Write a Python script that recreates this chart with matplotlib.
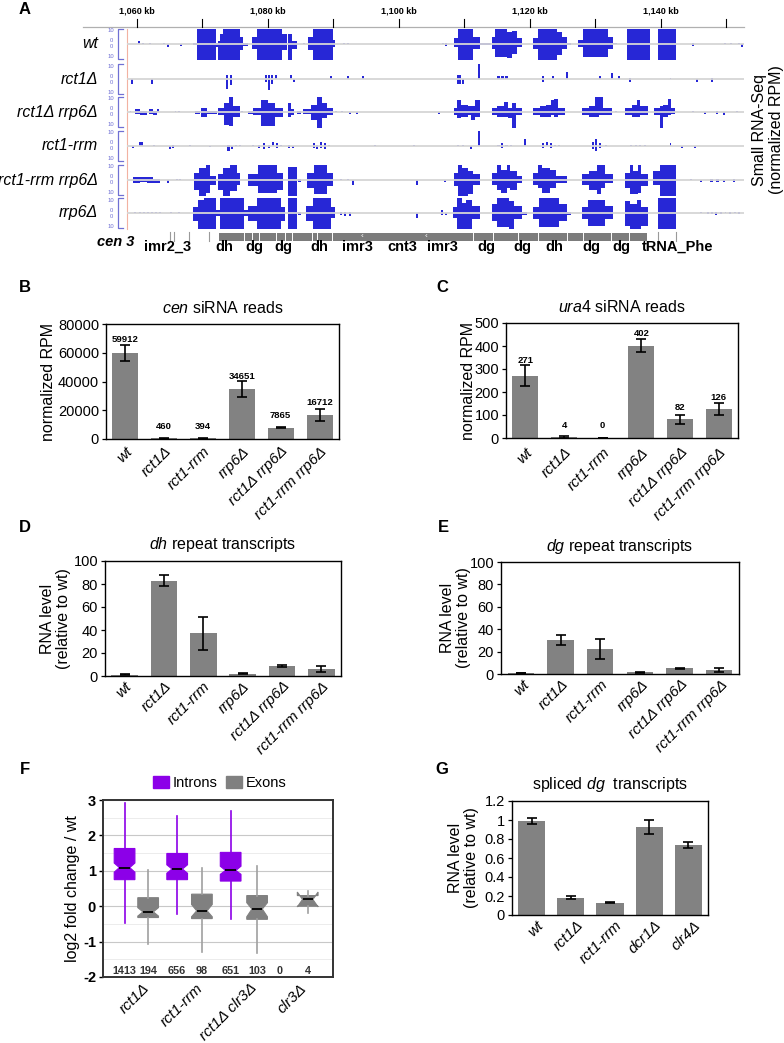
import matplotlib
matplotlib.use("Agg")
import matplotlib.pyplot as plt
from matplotlib.patches import Patch, Rectangle
import numpy as np

plt.rcParams['font.family'] = ['Liberation Sans', 'DejaVu Sans']
plt.rcParams['mathtext.fontset'] = 'custom'
plt.rcParams['mathtext.rm'] = 'Liberation Sans'
plt.rcParams['mathtext.it'] = 'Liberation Sans:italic'
plt.rcParams['mathtext.bf'] = 'Liberation Sans:bold'
plt.rcParams['axes.unicode_minus'] = False

# ====================== DATA ======================
# Panel A: small RNA coverage, segments (start_kb, end_kb, plus_strand, minus_strand), scale 0-10
track_names = ["wt", "rct1Δ", "rct1Δ rrp6Δ", "rct1-rrm", "rct1-rrm rrp6Δ", "rrp6Δ"]

wt_segs = [
    (1060.1, 1060.4, 2, 0), (1060.8, 1061.1, 1, 0), (1061.9, 1062.2, 1, 0), (1064.0, 1064.3, 1, 0),
    (1064.6, 1064.9, 0, 2), (1066.5, 1066.8, 0, 1),
    (1068.6, 1069.2, 1, 0.5), (1069.2, 1072.0, 10, 10), (1072.0, 1072.3, 1, 2), (1072.3, 1072.6, 2, 10),
    (1072.6, 1073.1, 7, 10), (1073.1, 1075.8, 10, 10), (1075.8, 1076.2, 5, 4), (1076.2, 1077.0, 1, 1),
    (1077.5, 1078.3, 5, 3), (1078.3, 1082.1, 10, 10), (1082.1, 1082.9, 7, 4), (1083.0, 1083.6, 7, 10),
    (1083.6, 1084.5, 2, 3), (1085.3, 1085.6, 1, 0),
    (1086.1, 1086.9, 5, 4), (1086.9, 1089.9, 10, 10), (1089.9, 1090.3, 3, 2), (1091.5, 1091.8, 1, 0),
    (1092.0, 1092.3, 1, 0), (1106.6, 1106.9, 1, 0), (1107.0, 1107.3, 1, 1),
    (1108.4, 1109.0, 4, 2), (1109.0, 1111.3, 10, 10), (1111.3, 1112.4, 5, 3), (1112.4, 1114.0, 1, 0.5),
    (1114.2, 1114.7, 5, 3), (1114.7, 1116.5, 10, 8), (1116.5, 1117.3, 8, 9), (1117.3, 1118.0, 9, 6),
    (1118.0, 1118.8, 4, 2), (1120.5, 1121.2, 4, 3), (1121.2, 1124.1, 10, 10), (1124.1, 1124.9, 8, 7),
    (1124.9, 1125.7, 5, 3), (1125.7, 1126.3, 1, 0.5), (1127.3, 1128.1, 3, 2), (1128.1, 1131.9, 10, 8),
    (1131.9, 1132.7, 5, 3), (1132.7, 1133.3, 1, 0), (1134.8, 1138.3, 10, 10), (1139.5, 1142.3, 10, 10),
    (1144.8, 1145.1, 1, 1), (1149.6, 1149.9, 1, 0), (1150.5, 1150.8, 1, 0), (1151.7, 1152.0, 1, 0),
    (1152.2, 1152.5, 0, 2),
]
rct1d_segs = [
    (1059.1, 1059.4, 0, 3), (1062.1, 1062.4, 0, 3), (1073.6, 1073.9, 3, 6), (1074.2, 1074.5, 3, 4),
    (1079.6, 1079.9, 3, 2), (1080.0, 1080.3, 3, 7), (1080.5, 1080.8, 3, 3), (1081.0, 1081.3, 3, 0),
    (1083.3, 1083.6, 3, 0), (1083.8, 1084.1, 0, 2), (1089.5, 1089.8, 2, 0), (1092.1, 1092.4, 2, 0),
    (1094.4, 1094.7, 2, 0), (1108.8, 1109.5, 3, 3), (1109.6, 1110.0, 0, 3), (1112.1, 1112.4, 10, 0),
    (1115.0, 1115.4, 2, 0), (1115.6, 1116.0, 2, 0), (1116.2, 1116.6, 2, 0), (1121.8, 1122.1, 2, 2),
    (1123.3, 1123.6, 2, 0), (1125.5, 1125.8, 5, 0), (1130.6, 1130.9, 2, 0), (1132.4, 1132.7, 4, 0),
    (1133.4, 1133.7, 2, 0), (1135.1, 1135.4, 1, 2), (1141.3, 1141.6, 1, 0), (1145.4, 1145.7, 0, 2),
    (1147.7, 1148.0, 1, 2),
]
rct1d_rrp6d_segs = [
    (1058.9, 1059.1, 0.5, 0), (1059.7, 1060.4, 2, 1), (1060.4, 1061.0, 1, 2), (1061.0, 1061.6, 1, 2),
    (1061.8, 1062.4, 2, 1), (1062.4, 1063.0, 1, 2), (1063.0, 1063.3, 2, 0), (1065.8, 1066.0, 1, 0),
    (1066.3, 1066.6, 1, 0), (1068.9, 1069.6, 0.5, 1), (1069.8, 1070.7, 3, 3), (1070.7, 1072.2, 1, 1),
    (1072.4, 1073.3, 3, 2), (1073.3, 1074.0, 6, 8), (1074.0, 1074.6, 10, 9), (1074.6, 1075.7, 4, 3),
    (1075.9, 1076.2, 1, 0), (1077.0, 1077.7, 1, 1), (1077.7, 1079.0, 3, 2), (1079.0, 1080.0, 8, 9),
    (1080.0, 1081.0, 6, 9), (1081.0, 1082.3, 3, 3), (1083.0, 1083.5, 6, 3), (1083.5, 1084.0, 2, 2),
    (1084.5, 1085.0, 1, 1), (1085.3, 1086.5, 2, 1), (1086.5, 1087.5, 5, 5), (1087.5, 1088.3, 10, 10),
    (1088.3, 1089.0, 6, 4), (1089.0, 1090.0, 3, 2), (1090.2, 1090.5, 1, 0), (1091.2, 1091.5, 1, 0),
    (1092.3, 1092.6, 0, 1), (1093.4, 1093.7, 0, 1), (1106.0, 1106.3, 0, 1),
    (1108.4, 1108.8, 3, 2), (1108.8, 1109.4, 8, 4), (1109.4, 1110.5, 5, 3), (1110.5, 1111.0, 4, 2),
    (1111.0, 1111.6, 4, 5), (1111.6, 1112.4, 8, 3), (1114.2, 1115.0, 3, 2), (1115.0, 1116.0, 4, 3),
    (1116.0, 1116.6, 7, 3), (1116.6, 1117.2, 3, 4), (1117.2, 1117.8, 6, 10), (1117.8, 1118.8, 3, 2),
    (1120.5, 1121.5, 3, 2), (1121.5, 1122.5, 4, 3), (1122.5, 1123.2, 5, 3), (1123.2, 1123.6, 8, 2),
    (1123.6, 1124.3, 9, 3), (1124.3, 1125.3, 3, 2), (1127.9, 1129.0, 3, 2), (1129.0, 1130.0, 4, 3),
    (1130.0, 1130.5, 10, 3), (1130.5, 1131.2, 10, 2), (1131.2, 1132.5, 3, 2), (1133.0, 1133.3, 1, 0),
    (1134.5, 1135.5, 3, 2), (1135.5, 1136.3, 5, 3), (1136.3, 1136.8, 8, 3), (1136.8, 1138.0, 4, 2),
    (1139.0, 1139.8, 3, 2), (1139.8, 1140.3, 4, 10), (1140.3, 1141.0, 5, 3), (1141.0, 1141.5, 9, 2),
    (1141.5, 1142.2, 3, 1), (1144.8, 1145.1, 1, 0), (1146.5, 1146.8, 0, 1), (1148.4, 1148.7, 1, 1),
    (1149.4, 1149.7, 0, 2), (1151.5, 1151.8, 1, 0),
]
rct1rrm_segs = [
    (1059.3, 1059.6, 0, 1), (1060.3, 1060.9, 3, 0), (1062.5, 1062.8, 1, 0), (1064.9, 1065.2, 0, 2),
    (1065.3, 1065.6, 1, 1), (1067.9, 1068.2, 1, 0), (1071.0, 1071.3, 0, 0.5), (1073.7, 1074.2, 1, 3),
    (1074.3, 1074.6, 0, 2), (1075.0, 1075.3, 1, 0), (1075.6, 1075.9, 1, 0), (1077.5, 1077.8, 1, 0),
    (1078.5, 1078.8, 1, 1), (1079.3, 1079.6, 2, 2), (1080.0, 1080.3, 1, 1), (1080.6, 1080.9, 3, 0),
    (1081.2, 1081.5, 2, 1), (1081.8, 1082.1, 1, 0), (1083.0, 1083.3, 1, 1), (1083.6, 1083.9, 0, 1),
    (1086.9, 1087.2, 2, 1), (1087.4, 1087.7, 1, 2), (1088.0, 1088.3, 3, 1), (1088.6, 1088.9, 2, 2),
    (1089.2, 1089.5, 1, 0), (1096.2, 1096.5, 0.5, 0), (1102.2, 1102.5, 0.5, 0), (1108.8, 1109.1, 0.5, 0),
    (1109.6, 1109.9, 0.5, 0), (1110.8, 1111.1, 0, 2), (1112.1, 1112.4, 10, 0), (1115.0, 1115.4, 1, 0),
    (1115.6, 1115.9, 2, 1), (1116.2, 1116.6, 1, 0), (1117.0, 1117.3, 1, 0), (1119.1, 1119.4, 5, 0),
    (1121.8, 1122.1, 2, 1), (1122.4, 1122.7, 3, 0), (1123.0, 1123.3, 2, 1), (1123.7, 1124.0, 1, 0),
    (1124.3, 1124.6, 1, 0), (1129.5, 1129.8, 3, 2), (1130.0, 1130.3, 5, 3), (1130.5, 1130.8, 2, 1),
    (1131.5, 1131.8, 1, 0), (1135.3, 1135.6, 1, 0), (1136.0, 1136.3, 1, 0), (1136.7, 1137.0, 1, 0),
    (1137.4, 1137.7, 1, 0), (1141.3, 1141.6, 2, 0), (1143.0, 1143.3, 0, 1), (1145.0, 1145.3, 0, 1),
]
rct1rrm_rrp6d_segs = [
    (1059.4, 1060.5, 2, 2), (1060.5, 1061.5, 2, 1), (1061.5, 1062.5, 2, 2), (1062.5, 1063.5, 1, 2),
    (1064.6, 1064.9, 0, 2), (1065.9, 1066.2, 1, 0), (1066.4, 1066.7, 1, 0),
    (1068.7, 1069.5, 5, 6), (1069.5, 1070.5, 8, 10), (1070.5, 1071.2, 10, 8), (1071.2, 1072.0, 3, 3),
    (1072.4, 1073.2, 4, 6), (1073.2, 1074.2, 8, 10), (1074.2, 1075.2, 10, 7), (1075.2, 1075.8, 5, 3),
    (1077.0, 1078.5, 4, 4), (1078.5, 1081.4, 10, 8), (1081.4, 1082.3, 5, 6), (1083.0, 1084.4, 9, 10),
    (1084.6, 1085.0, 1, 1), (1086.0, 1087.0, 5, 5), (1087.0, 1089.0, 10, 9), (1089.0, 1090.0, 5, 4),
    (1091.0, 1091.3, 1, 0), (1092.0, 1092.3, 1, 0), (1092.9, 1093.2, 0, 3), (1102.6, 1102.9, 0, 3),
    (1106.9, 1107.2, 0, 1), (1108.4, 1109.0, 5, 4), (1109.0, 1109.6, 10, 10), (1109.6, 1110.6, 8, 10),
    (1110.6, 1111.3, 6, 9), (1111.3, 1112.4, 4, 3), (1114.2, 1115.0, 5, 3), (1115.0, 1115.5, 10, 6),
    (1115.5, 1116.5, 7, 8), (1116.5, 1117.0, 10, 5), (1117.0, 1118.0, 6, 6), (1118.0, 1118.8, 3, 2),
    (1120.5, 1121.2, 5, 3), (1121.2, 1121.8, 10, 5), (1121.8, 1123.0, 8, 8), (1123.0, 1124.0, 7, 5),
    (1124.0, 1125.6, 3, 2), (1127.9, 1129.0, 4, 3), (1129.0, 1130.3, 6, 6), (1130.3, 1130.9, 10, 9),
    (1130.9, 1131.5, 10, 5), (1131.5, 1132.7, 4, 2), (1134.5, 1135.3, 5, 5), (1135.3, 1135.8, 10, 9),
    (1135.8, 1136.5, 6, 9), (1136.5, 1137.0, 10, 8), (1137.0, 1138.0, 4, 4), (1138.8, 1139.9, 6, 3),
    (1139.9, 1142.3, 10, 10), (1144.4, 1144.7, 1, 0), (1146.0, 1146.3, 0, 1), (1147.5, 1148.0, 1, 1),
    (1148.4, 1148.8, 1, 1), (1149.5, 1149.8, 0, 1), (1151.0, 1151.3, 1, 1),
]
rrp6d_segs = [
    (1059.6, 1059.9, 0.7, 0.3), (1060.3, 1060.6, 0.7, 0), (1060.9, 1061.2, 0.7, 0.3), (1061.5, 1061.8, 0.7, 0),
    (1062.1, 1062.4, 0.7, 0.3), (1062.7, 1063.0, 0.7, 0), (1063.3, 1063.6, 0.7, 0.3), (1065.0, 1065.3, 1, 0),
    (1066.2, 1066.5, 1, 0), (1068.5, 1069.3, 4, 5), (1069.3, 1070.2, 9, 10), (1070.2, 1072.0, 10, 10),
    (1072.0, 1072.6, 2, 2), (1072.6, 1076.3, 10, 10), (1076.3, 1077.0, 2, 2), (1077.0, 1078.3, 5, 5),
    (1078.3, 1082.0, 10, 10), (1082.0, 1082.6, 4, 5), (1083.0, 1084.4, 10, 10), (1084.6, 1085.0, 1, 1),
    (1085.8, 1086.8, 5, 5), (1086.8, 1089.6, 10, 10), (1089.6, 1090.3, 4, 3), (1091.0, 1091.3, 1, 1),
    (1091.6, 1091.9, 1, 2), (1092.4, 1092.7, 1, 2), (1102.6, 1102.9, 0, 3), (1106.4, 1106.7, 2, 1),
    (1107.0, 1107.3, 0, 1), (1108.2, 1108.8, 4, 3), (1108.8, 1109.6, 10, 10), (1109.6, 1110.2, 7, 10),
    (1110.2, 1111.2, 9, 10), (1111.2, 1112.4, 5, 4), (1114.2, 1115.0, 6, 5), (1115.0, 1116.8, 10, 9),
    (1116.8, 1117.6, 8, 10), (1117.6, 1118.8, 5, 4), (1118.8, 1119.5, 1, 1), (1120.5, 1121.3, 4, 4),
    (1121.3, 1124.5, 10, 9), (1124.5, 1125.6, 6, 5), (1125.6, 1126.3, 1, 1), (1127.9, 1128.8, 4, 4),
    (1128.8, 1131.5, 9, 8), (1131.5, 1132.7, 5, 4), (1134.5, 1135.3, 8, 8), (1135.3, 1136.3, 6, 10),
    (1136.3, 1137.0, 9, 10), (1137.0, 1138.0, 4, 8), (1139.5, 1142.3, 10, 10), (1146.0, 1146.3, 0.5, 0),
    (1147.0, 1147.3, 0.7, 0.7), (1147.6, 1147.9, 1, 0.7), (1148.3, 1148.6, 0.7, 1), (1149.0, 1149.3, 0.7, 0.7),
    (1149.7, 1150.0, 1, 0), (1150.4, 1150.7, 0.7, 0.7), (1151.1, 1151.4, 0.7, 0), (1151.8, 1152.1, 0.7, 0.7),
]
track_segs = [wt_segs, rct1d_segs, rct1d_rrp6d_segs, rct1rrm_segs, rct1rrm_rrp6d_segs, rrp6d_segs]

kb_ticks = list(range(1060, 1151, 10))
kb_labeled = [1060, 1080, 1100, 1120, 1140]
cen_bar = (1072.5, 1137.9)
cen_breaks = [1076.3, 1077.6, 1078.6, 1081.2, 1082.6, 1083.7, 1086.7, 1087.5, 1089.8,
              1111.3, 1114.4, 1118.2, 1121.2, 1125.6, 1128.1, 1132.4, 1135.1]
cen_arrows = [1094.4, 1104.1]
cen_marks = [1065.0, 1065.6, 1067.9, 1071.0, 1139.5, 1142.3]
cen_features = ["imr2_3", "dh", "dg", "dg", "dh", "imr3", "cnt3", "imr3", "dg", "dg", "dh", "dg", "dg", "tRNA_Phe"]
cen_feature_kb = [1064.7, 1073.3, 1077.9, 1082.4, 1087.8, 1093.7, 1100.5, 1106.6, 1113.4, 1118.9,
                  1123.7, 1129.3, 1133.9, 1142.6]

# Panels B-E
strains6 = ["wt", "rct1Δ", "rct1-rrm", "rrp6Δ", "rct1Δ rrp6Δ", "rct1-rrm rrp6Δ"]
cen_rpm = [59912, 460, 394, 34651, 7865, 16712]
cen_err = [5500, 200, 150, 5500, 500, 4200]
ura4_rpm = [271, 4, 0, 402, 82, 126]
ura4_err = [46, 3, 0, 30, 20, 26]
dh_level = [1, 83, 37, 2, 9, 6]
dh_err = [0.5, 5, 14.5, 0.5, 1, 2.5]
dg_level = [1, 30, 22, 1.5, 5, 3.5]
dg_err = [0.3, 4.5, 9, 0.3, 0.7, 1.5]

# Panel F
f_groups = ["rct1Δ", "rct1-rrm", "rct1Δ clr3Δ", "clr3Δ"]
intron_med = [1.09, 1.05, 1.01]
intron_q1 = [0.75, 0.75, 0.71]
intron_q3 = [1.63, 1.49, 1.52]
intron_lo = [-0.47, -0.23, -0.37]
intron_hi = [2.92, 2.56, 2.69]
intron_cilo = [0.96, 0.93, 0.90]
intron_cihi = [1.22, 1.17, 1.13]
intron_n = [1413, 656, 651, 0]
exon_med = [-0.16, -0.13, -0.08, 0.19]
exon_q1 = [-0.32, -0.35, -0.37, 0.0]
exon_q3 = [0.24, 0.34, 0.30, 0.30]
exon_lo = [-1.08, -1.29, -1.31, -0.19]
exon_hi = [1.02, 1.09, 1.13, 0.42]
exon_cilo = [-0.28, -0.30, -0.30, -0.02]
exon_cihi = [-0.04, 0.05, 0.10, 0.40]
exon_n = [194, 98, 103, 4]

# Panel G
spliced_strains = ["wt", "rct1Δ", "rct1-rrm", "dcr1Δ", "clr4Δ"]
spliced_level = [0.99, 0.18, 0.13, 0.93, 0.74]
spliced_err = [0.03, 0.015, 0.005, 0.075, 0.03]

# ====================== FIGURE ======================
W, H = 784, 1043
fig = plt.figure(figsize=(W / 100, H / 100), dpi=100)


def rect(l, t, r, b):
    return [l / W, 1 - b / H, (r - l) / W, (b - t) / H]


def ptext(x, y, s, **kw):
    fig.text(x / W, 1 - y / H, s, **kw)


BLUE = '#2727d6'
SCALEBLUE = '#7070d4'
NARROW = ['Liberation Sans Narrow', 'Liberation Sans', 'DejaVu Sans']

# ---------------- Panel A ----------------
PXKB = 6.55
axA = fig.add_axes(rect(0, 0, W, 262))
axA.set_xlim(1060 - 137 / PXKB, 1060 + (W - 137) / PXKB)
axA.set_ylim(262, 0)
axA.axis('off')
ytr = axA.get_yaxis_transform()

def kb(px):
    return 1060 + (px - 137) / PXKB

track_y = [44, 79, 112, 146, 180, 213]
HALF_UP, HALF_DN = 1.5, 1.6
for name, segs, y0 in zip(track_names, track_segs, track_y):
    s = np.array(segs, dtype=float)
    axA.bar(s[:, 0], -s[:, 2] * HALF_UP, width=s[:, 1] - s[:, 0], bottom=y0, align='edge',
            color=BLUE, linewidth=0, zorder=2)
    axA.bar(s[:, 0], s[:, 3] * HALF_DN, width=s[:, 1] - s[:, 0], bottom=y0, align='edge',
            color=BLUE, linewidth=0, zorder=2)
    axA.plot([kb(127), kb(744)], [y0, y0], color='#d6d6d6', lw=1.3, zorder=3, solid_capstyle='butt')
    axA.text(98 / W, y0, name, transform=ytr, ha='right', va='center', fontsize=11.5,
             style='italic', family=NARROW)
    for yy, lab in [(y0 - 13, '10'), (y0 - 3, '0'), (y0 + 3, '0'), (y0 + 13, '10')]:
        axA.text(111 / W, yy, lab, transform=ytr, ha='center', va='center', fontsize=4.2,
                 color=SCALEBLUE)
    axA.plot([123 / W, 118 / W, 118 / W, 123 / W], [y0 - 15, y0 - 15, y0 + 15, y0 + 15],
             transform=ytr, color=SCALEBLUE, lw=0.9)

axA.plot([kb(127), kb(127)], [29, 229], color='#f2b2a2', lw=0.8)
# ruler
axA.plot([kb(83), kb(744)], [27, 27], color='#b0b0b0', lw=0.9)
for k in kb_ticks:
    axA.plot([k, k], [19, 27], color='black', lw=0.8)
for k in kb_labeled:
    axA.text(k, 11, f"{k:,} kb", ha='center', va='center', fontsize=6.5, fontweight='bold')
# annotation track
axA.add_patch(Rectangle((cen_bar[0], 233), cen_bar[1] - cen_bar[0], 8, color='#7c7c7c', lw=0, zorder=2))
for b in cen_breaks:
    axA.plot([b, b], [233, 241], color='white', lw=0.7, zorder=3)
for a in cen_arrows:
    axA.text(a, 236.5, '‹', color='white', fontsize=6, ha='center', va='center', zorder=4)
for m in cen_marks:
    axA.plot([m, m], [232, 241], color='#9a9a9a', lw=0.8)
axA.text(116 / W, 242.5, 'cen 3', transform=ytr, ha='center', va='center', fontsize=10.5,
         fontweight='bold', style='italic', family=NARROW)
for lab, k in zip(cen_features, cen_feature_kb):
    axA.text(k, 247, lab, ha='center', va='center', fontsize=10.5, fontweight='bold', family=NARROW)

ptext(768, 130, 'Small RNA-Seq\n(normalized RPM)', rotation=90, ha='center', va='center',
      fontsize=11.5, linespacing=1.15)

# ---------------- bar panels ----------------
def xlabels(ax, labels, positions, box, nunits, dx=5, dy=5, fontsize=11):
    ppu = (box[2] - box[0]) / nunits
    ax.set_xticks(np.asarray(positions) + dx / ppu)
    ax.set_xticklabels(labels, rotation=45, ha='right', va='center', rotation_mode='anchor',
                       fontsize=fontsize, style='italic')
    ax.tick_params(axis='x', length=0, pad=3 + dy * 0.72)


def bar_panel(box, cats, vals, errs, ylim, yticks, title, ylabel, ylab_x, ytick_fmt=None,
              value_labels=False, width=0.67, dx=5, dy=5):
    ax = fig.add_axes(rect(*box))
    x = np.arange(len(cats))
    ax.bar(x, vals, width=width, color='#828282', zorder=2)
    ax.errorbar(x, vals, yerr=errs, fmt='none', ecolor='black', elinewidth=1.2, capsize=3.5,
                capthick=1.2, zorder=3)
    ax.set_xlim(-0.5, len(cats) - 0.5)
    ax.set_ylim(*ylim)
    ax.set_yticks(yticks)
    if ytick_fmt:
        ax.set_yticklabels([ytick_fmt(v) for v in yticks])
    ax.tick_params(axis='y', labelsize=10.5, length=3, width=0.9, pad=2)
    for sp in ax.spines.values():
        sp.set_linewidth(1.0)
    xlabels(ax, cats, x, box, len(cats), dx=dx, dy=dy)
    hpx = box[3] - box[1]
    unit = (ylim[1] - ylim[0]) / hpx
    ax.text(0.5, 1 + 16 / hpx, title, transform=ax.transAxes, ha='center', va='center', fontsize=11.5)
    ax.set_ylabel(ylabel, fontsize=11.5, linespacing=1.05)
    ax.yaxis.set_label_coords(ylab_x, 0.5)
    if value_labels:
        for xi, v, e in zip(x, vals, errs):
            ly = max(v + 12 * unit, v + e + 5 * unit)
            ax.text(xi, ly, f"{v}", ha='center', va='center', fontsize=6.8, fontweight='bold')
    return ax


bar_panel((106, 324, 339, 439), strains6, cen_rpm, cen_err, (0, 80000), [0, 20000, 40000, 60000, 80000],
          r"$\mathit{cen}$ siRNA reads", 'normalized RPM', -0.216, value_labels=True, dx=5, dy=6)
bar_panel((506, 323, 738, 438), strains6, ura4_rpm, ura4_err, (0, 500), [0, 100, 200, 300, 400, 500],
          r"$\mathit{ura4}$ siRNA reads", 'normalized RPM', -0.131, value_labels=True, dx=5, dy=8)
bar_panel((105, 561, 341, 676), strains6, dh_level, dh_err, (0, 100), [0, 20, 40, 60, 80, 100],
          r"$\mathit{dh}$ repeat transcripts", 'RNA level\n(relative to wt)', -0.146, dx=5, dy=4)
bar_panel((501, 562, 739, 674), strains6, dg_level, dg_err, (0, 100), [0, 20, 40, 60, 80, 100],
          r"$\mathit{dg}$ repeat transcripts", 'RNA level\n(relative to wt)', -0.127, dx=6, dy=4)
bar_panel((512, 801, 708, 915), spliced_strains, spliced_level, spliced_err, (0, 1.2),
          [0, 0.2, 0.4, 0.6, 0.8, 1.0, 1.2], r"spliced $\mathit{dg}$  transcripts",
          'RNA level\n(relative to wt)', -0.168, ytick_fmt=lambda v: f"{v:g}", width=0.69, dx=10, dy=4)

# ---------------- Panel F ----------------
PURPLE = '#8c00e8'
GRAY = '#808080'
boxF = (103, 800, 333, 977)
axF = fig.add_axes(rect(*boxF))
intron_x = [0.75, 2.58, 4.44, 6.15]
exon_x = [1.57, 3.44, 5.36, 7.12]
istats = [dict(med=m, q1=a, q3=b, whislo=lo, whishi=hi, cilo=cl, cihi=ch, fliers=[])
          for m, a, b, lo, hi, cl, ch in zip(intron_med, intron_q1, intron_q3, intron_lo, intron_hi,
                                              intron_cilo, intron_cihi)]
estats = [dict(med=m, q1=a, q3=b, whislo=lo, whishi=hi, cilo=cl, cihi=ch, fliers=[])
          for m, a, b, lo, hi, cl, ch in zip(exon_med, exon_q1, exon_q3, exon_lo, exon_hi,
                                              exon_cilo, exon_cihi)]
axF.bxp(istats, positions=intron_x[:3], widths=0.72, shownotches=True, patch_artist=True,
        showcaps=False, showfliers=False,
        boxprops=dict(facecolor=PURPLE, edgecolor=PURPLE, lw=0.8),
        whiskerprops=dict(color=PURPLE, lw=1.2), medianprops=dict(color='black', lw=1.3))
axF.bxp(estats, positions=exon_x, widths=0.72, shownotches=True, patch_artist=True,
        showcaps=False, showfliers=False,
        boxprops=dict(facecolor=GRAY, edgecolor=GRAY, lw=0.8),
        whiskerprops=dict(color='#a0a0a0', lw=1.2), medianprops=dict(color='black', lw=1.3))
axF.set_xlim(0, 8)
axF.set_ylim(-2, 3)
axF.set_yticks([-2, -1, 0, 1, 2, 3])
axF.set_yticks(np.arange(-1.5, 3, 1.0), minor=True)
axF.grid(True, which='major', axis='y', color='#c8c8c8', lw=0.8, zorder=0)
axF.grid(True, which='minor', axis='y', color='#ececec', lw=0.7, zorder=0)
axF.set_axisbelow(True)
axF.tick_params(axis='y', which='major', labelsize=10.5, length=3, width=1, pad=2)
axF.tick_params(axis='y', which='minor', length=0)
for t in axF.get_yticklabels():
    t.set_fontweight('bold')
for sp in axF.spines.values():
    sp.set_linewidth(1.4)
    sp.set_color('#333333')
for xs, ns in [(intron_x, intron_n), (exon_x, exon_n)]:
    for xi, n in zip(xs, ns):
        axF.text(xi, -1.83, str(n), ha='center', va='center', fontsize=7.8, fontweight='bold',
                 color='#333333')
grp_x = [(a + b) / 2 for a, b in zip(intron_x, exon_x)]
xlabels(axF, f_groups, grp_x, boxF, 8, dx=11, dy=5)
axF.set_ylabel('log2 fold change / wt', fontsize=11.5)
axF.yaxis.set_label_coords(-0.10, 0.5)
fig.legend(handles=[Patch(facecolor=PURPLE, edgecolor=PURPLE), Patch(facecolor=GRAY, edgecolor=GRAY)],
           labels=['Introns', 'Exons'], loc='center', bbox_to_anchor=(220 / W, 1 - 783 / H), ncol=2,
           frameon=False, fontsize=10.5, handlelength=1.1, handleheight=0.8, columnspacing=0.6,
           handletextpad=0.25)

# panel letters
for lab, x, y in [('A', 25, 9), ('B', 25, 288), ('C', 442, 288), ('D', 25, 528), ('E', 443, 528),
                  ('F', 25, 770), ('G', 442, 770)]:
    ptext(x, y, lab, fontsize=12, fontweight='bold', ha='center', va='center')

fig.savefig('out.png', dpi=100)
